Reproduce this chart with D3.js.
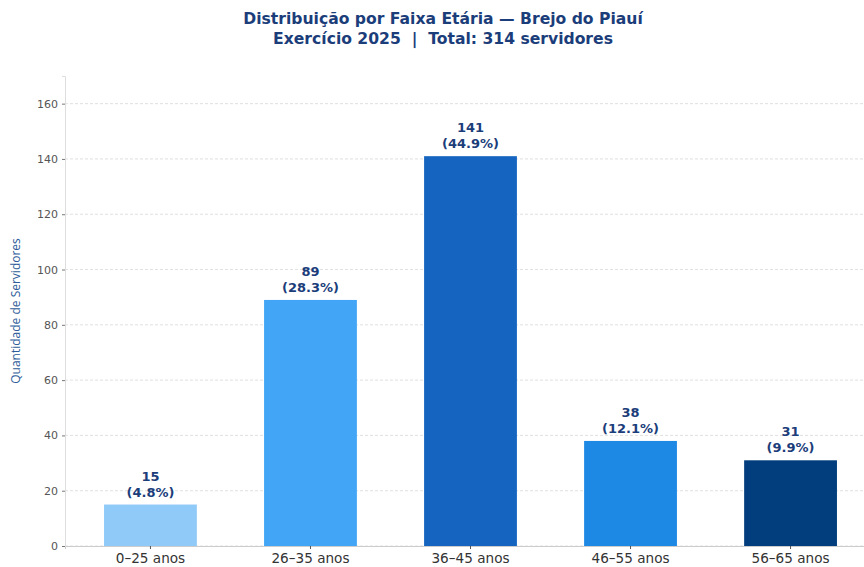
<!DOCTYPE html>
<html>
<head>
<meta charset="utf-8">
<script src="https://cdn.jsdelivr.net/npm/d3@7"></script>
<style>
  body { margin: 0; background: #fff; }
  text { font-family: "DejaVu Sans", sans-serif; }
</style>
</head>
<body>
<div class="chart"></div>
<script>
var faixas = ["0–25 anos", "26–35 anos", "36–45 anos", "46–55 anos", "56–65 anos"];
var quantidades = [15, 89, 141, 38, 31];
var percentuais = ["4.8%", "28.3%", "44.9%", "12.1%", "9.9%"];
var cores = ["#90CAF9", "#42A5F5", "#1565C0", "#1E88E5", "#023E7D"];
var yTicks = [0, 20, 40, 60, 80, 100, 120, 140, 160];

var svgWidth = 864, svgHeight = 567;
var margin = { top: 76, right: -12, bottom: 21, left: 65 };
var width = svgWidth - margin.left - margin.right;
var height = svgHeight - margin.top - margin.bottom;

var svg = d3.select(".chart").append("svg")
  .attr("width", svgWidth)
  .attr("height", svgHeight);

// title
var title = svg.append("text")
  .attr("text-anchor", "middle")
  .attr("fill", "#1B3D7A")
  .style("font-weight", "bold")
  .style("font-size", "15.6px")
  .style("white-space", "pre");
title.append("tspan").attr("x", 443).attr("y", 24).text("Distribuição por Faixa Etária — Brejo do Piauí");
title.append("tspan").attr("x", 443).attr("y", 44).text("Exercício 2025  |  Total: 314 servidores");

var chart = svg.append("g")
  .attr("transform", "translate(" + margin.left + "," + margin.top + ")");

var x = d3.scaleBand()
  .domain(faixas)
  .range([0, width])
  .paddingInner(0.42)
  .paddingOuter(0.244);

var y = d3.scaleLinear()
  .domain([0, 170])
  .range([height, 0]);

// gridlines
chart.append("g")
  .selectAll("line")
  .data(yTicks)
  .enter().append("line")
  .attr("x1", 0)
  .attr("x2", width)
  .attr("y1", function(d) { return y(d); })
  .attr("y2", function(d) { return y(d); })
  .attr("stroke", "#d8d8d8")
  .attr("stroke-width", 0.8)
  .attr("stroke-dasharray", "3,2");

// bars
chart.selectAll(".bar")
  .data(quantidades)
  .enter().append("rect")
  .attr("class", "bar")
  .attr("x", function(d, i) { return x(faixas[i]); })
  .attr("y", function(d) { return y(d); })
  .attr("width", x.bandwidth())
  .attr("height", function(d) { return height - y(d); })
  .attr("fill", function(d, i) { return cores[i]; });

// value labels
var labels = chart.selectAll(".lbl")
  .data(quantidades)
  .enter().append("text")
  .attr("class", "lbl")
  .attr("text-anchor", "middle")
  .attr("fill", "#1B3D7A")
  .style("font-weight", "bold")
  .style("font-size", "13px");
labels.append("tspan")
  .attr("x", function(d, i) { return x(faixas[i]) + x.bandwidth() / 2; })
  .attr("y", function(d) { return y(d) - 24; })
  .text(function(d) { return d; });
labels.append("tspan")
  .attr("x", function(d, i) { return x(faixas[i]) + x.bandwidth() / 2; })
  .attr("y", function(d) { return y(d) - 8; })
  .text(function(d, i) { return "(" + percentuais[i] + ")"; });

// axes
var bottomAxis = d3.axisBottom(x).tickSize(3).tickPadding(4);
var leftAxis = d3.axisLeft(y).tickValues(yTicks).tickSize(3).tickPadding(4);

var gx = chart.append("g")
  .attr("transform", "translate(0," + height + ")")
  .call(bottomAxis);
gx.select(".domain").attr("stroke", "#cccccc");
gx.selectAll(".tick line").attr("stroke", "#555");
gx.selectAll(".tick text")
  .attr("fill", "#333")
  .style("font-size", "13.6px")
  .style("font-family", "DejaVu Sans, sans-serif");

var gy = chart.append("g").call(leftAxis);
gy.select(".domain").attr("stroke", "#dddddd");
gy.selectAll(".tick line").attr("stroke", "#777");
gy.selectAll(".tick text")
  .attr("fill", "#555")
  .style("font-size", "11px")
  .style("font-family", "DejaVu Sans, sans-serif");

// y axis label
svg.append("text")
  .attr("transform", "translate(20," + (margin.top + height / 2) + ") rotate(-90)")
  .attr("text-anchor", "middle")
  .attr("fill", "#2E5C9A")
  .style("font-family", "'Open Sans', sans-serif")
  .style("font-size", "12px")
  .text("Quantidade de Servidores");
</script>
</body>
</html>
